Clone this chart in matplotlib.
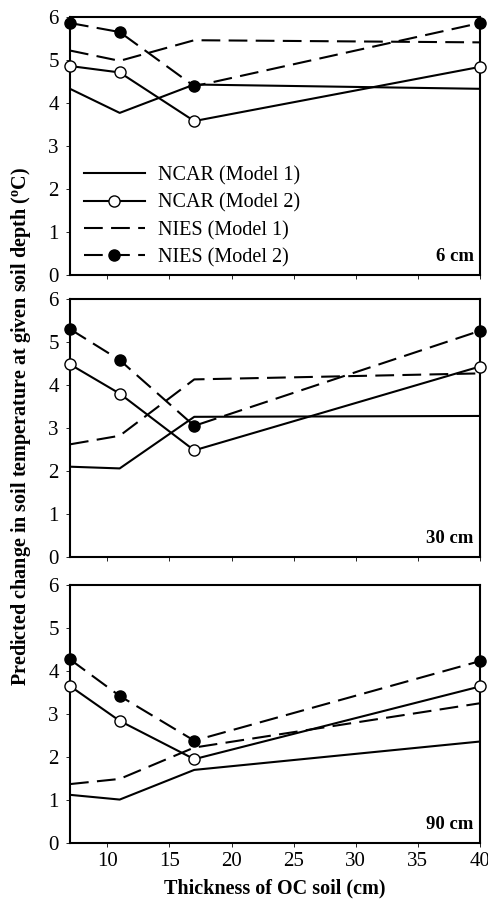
import matplotlib.pyplot as plt

plt.rcParams["font.family"] = ["Liberation Serif", "DejaVu Serif"]
plt.rcParams["mathtext.fontset"] = "custom"
plt.rcParams["mathtext.rm"] = "Liberation Serif"
plt.rcParams["mathtext.bf"] = "Liberation Serif:bold"

# Thickness of OC soil (cm)
thickness = [7, 11, 17, 40]

depths = ["6 cm", "30 cm", "90 cm"]

# predicted change (degC) per depth panel
ncar_m1 = [[4.33, 3.77, 4.43, 4.33],
           [2.10, 2.06, 3.26, 3.28],
           [1.12, 1.01, 1.70, 2.36]]
ncar_m2 = [[4.86, 4.71, 3.58, 4.84],
           [4.48, 3.80, 2.48, 4.43],
           [3.65, 2.84, 1.95, 3.64]]
nies_m1 = [[5.22, 4.98, 5.46, 5.41],
           [2.62, 2.82, 4.13, 4.27],
           [1.37, 1.49, 2.22, 3.25]]
nies_m2 = [[5.86, 5.65, 4.39, 5.86],
           [5.30, 4.58, 3.05, 5.26],
           [4.27, 3.42, 2.38, 4.23]]

fig = plt.figure(figsize=(4.89, 9.01), dpi=100)

left, width = 70 / 489, 410 / 489
tops = [17, 299, 585]
h = 258

dash = (9, 4)
for i in range(3):
    ax = fig.add_axes([left, 1 - (tops[i] + h) / 901, width, h / 901])
    ax.plot(thickness, ncar_m1[i], color="black", lw=1.5, label="NCAR (Model 1)")
    ax.plot(thickness, ncar_m2[i], color="black", lw=1.5, marker="o",
            markersize=8, markerfacecolor="white", markeredgewidth=1.0,
            label="NCAR (Model 2)", clip_on=False, zorder=4)
    ax.plot(thickness, nies_m1[i], color="black", lw=1.5, dashes=dash,
            label="NIES (Model 1)")
    ax.plot(thickness, nies_m2[i], color="black", lw=1.5, dashes=dash,
            marker="o", markersize=8, markerfacecolor="black",
            label="NIES (Model 2)", clip_on=False, zorder=4)

    ax.set_xlim(7, 40)
    ax.set_ylim(0, 6)
    ax.set_xticks([10, 15, 20, 25, 30, 35, 40])
    ax.set_yticks(range(7))
    ax.tick_params(axis="both", labelsize=15, direction="out", length=3, width=0.6)
    ax.tick_params(axis="y", pad=5)
    if i < 2:
        ax.set_xticklabels([])
    for s in ax.spines.values():
        s.set_linewidth(1.5)
    ax.text(0.985, 0.04, depths[i], transform=ax.transAxes, ha="right",
            va="bottom", fontsize=13.5, fontweight="bold")
    if i == 0:
        ax.legend(loc="lower left", bbox_to_anchor=(0.0, -0.025), frameon=False,
                  fontsize=14.5, handlelength=3.0, handletextpad=0.65,
                  labelspacing=0.4, borderaxespad=0.3)

fig.text(left + width / 2, 1 - 888 / 901, "Thickness of OC soil (cm)",
         ha="center", va="center", fontsize=14.5, fontweight="bold")

fig.text(0.042, 1 - 426 / 901,
         "Predicted change in soil temperature at given soil depth ($\\mathbf{^{o}}$C)",
         rotation=90, ha="center", va="center", fontsize=14.5, fontweight="bold")

fig.savefig("out.png", dpi=100)
